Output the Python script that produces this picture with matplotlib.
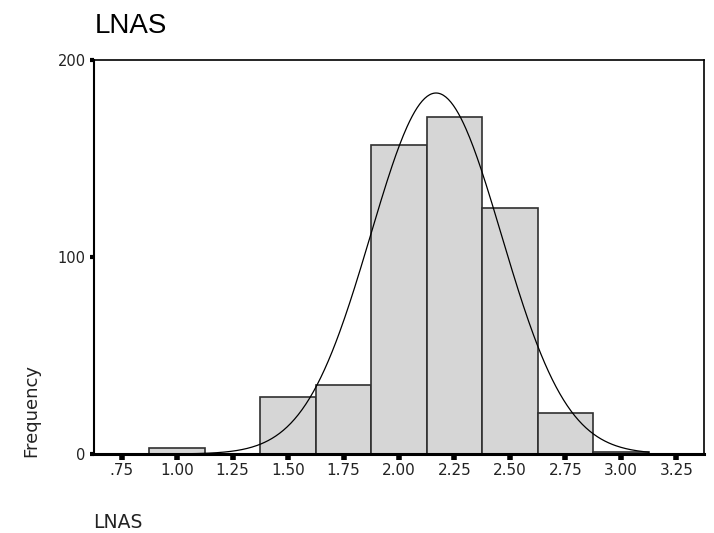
import matplotlib.pyplot as plt
import numpy as np

plt.rcParams['font.family'] = ['DejaVu Sans']

# histogram of LNAS (bin centres, width 0.25)
bin_centers = [0.75, 1.00, 1.25, 1.50, 1.75, 2.00, 2.25, 2.50, 2.75, 3.00]
counts = [0, 3, 0, 29, 35, 157, 171, 125, 21, 1]
bin_width = 0.25

# fitted normal curve parameters
mean_lnas = 2.167
std_lnas = 0.295
n_total = sum(counts)

xtick_vals = [0.75, 1.00, 1.25, 1.50, 1.75, 2.00, 2.25, 2.50, 2.75, 3.00, 3.25]
xtick_labels = ['.75', '1.00', '1.25', '1.50', '1.75', '2.00', '2.25', '2.50', '2.75', '3.00', '3.25']
ytick_vals = [0, 100, 200]

fig = plt.figure(figsize=(7.14, 5.33), dpi=100)
ax = fig.add_axes([94 / 714, 1 - 454 / 533, 610 / 714, 394 / 533])

ax.bar(bin_centers, counts, width=bin_width, color='#d6d6d6',
       edgecolor='#303030', linewidth=1.2, zorder=2)

# normal curve scaled to the histogram
xs = np.linspace(0.875, 3.125, 400)
ys = n_total * bin_width / (std_lnas * np.sqrt(2 * np.pi)) * np.exp(-0.5 * ((xs - mean_lnas) / std_lnas) ** 2)
ax.plot(xs, ys, color='black', linewidth=0.9, zorder=3)

ax.set_xlim(0.625, 3.375)
ax.set_ylim(0, 200)
ax.set_xticks(xtick_vals)
ax.set_xticklabels(xtick_labels)
ax.set_yticks(ytick_vals)

ax.tick_params(axis='x', direction='out', length=4, width=4, pad=2.5,
               labelsize=11, colors='black', labelcolor='#222222')
ax.tick_params(axis='y', direction='out', length=3, width=3, pad=3,
               labelsize=10.5, colors='black', labelcolor='#222222')

for side in ['top', 'right']:
    ax.spines[side].set_linewidth(1.2)
ax.spines['left'].set_linewidth(1.5)
ax.spines['bottom'].set_linewidth(2.2)
for s in ax.spines.values():
    s.set_color('black')

fig.text(95 / 714, 1 - 33 / 533, 'LNAS', fontsize=20, family='Liberation Sans',
         ha='left', va='baseline')
fig.text(93 / 714, 1 - 528 / 533, 'LNAS', fontsize=13.5, color='#222222',
         ha='left', va='baseline')
fig.text(22 / 714, 1 - 457 / 533, 'Frequency', fontsize=13, rotation=90,
         color='#222222', ha='left', va='bottom')

plt.savefig('out.png', dpi=100)
